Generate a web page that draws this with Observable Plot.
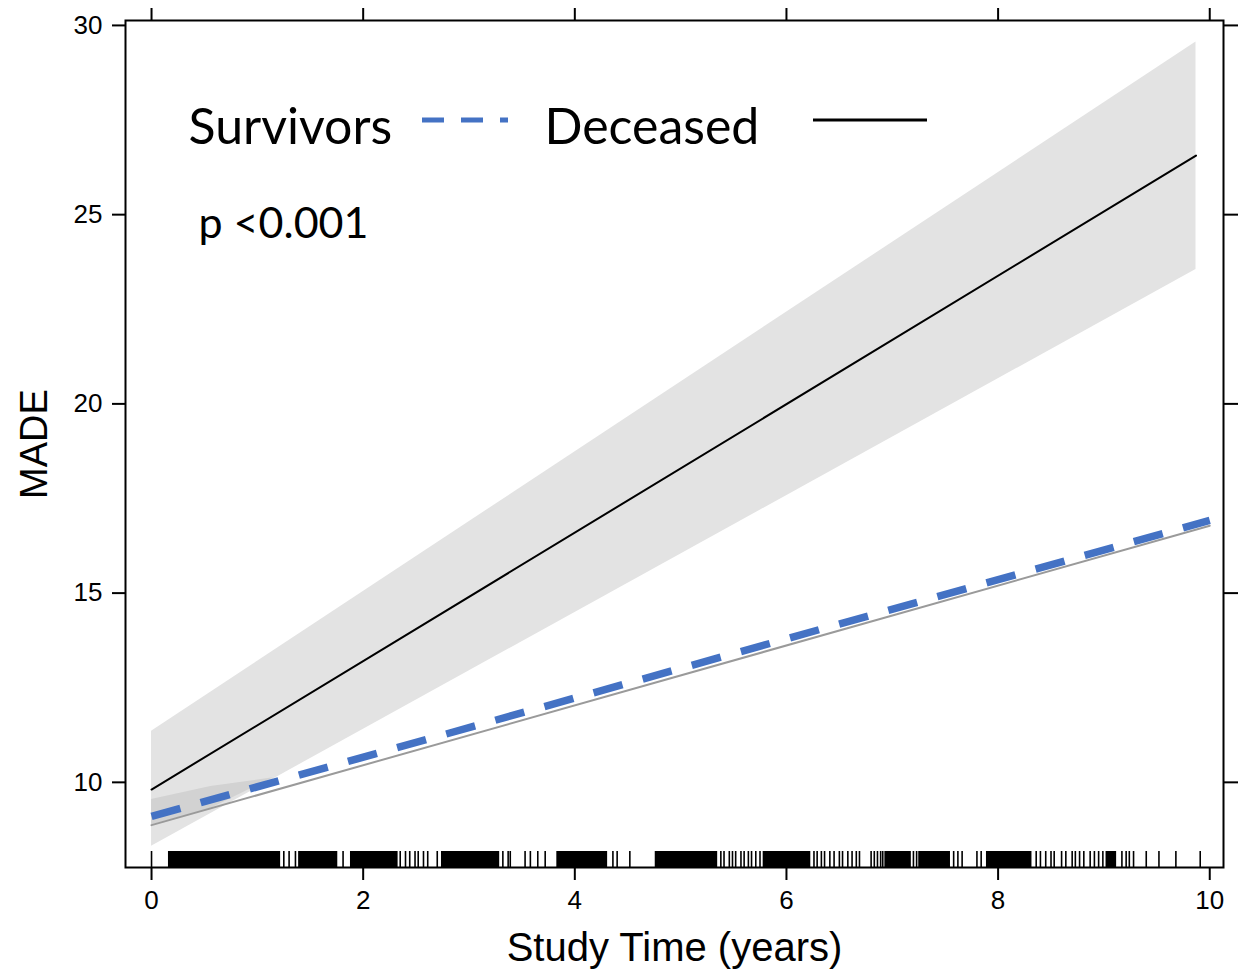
<!DOCTYPE html>
<html>
<head>
<meta charset="utf-8">
<script src="https://cdn.jsdelivr.net/npm/d3@7"></script>
<script src="https://cdn.jsdelivr.net/npm/@observablehq/plot@0.6"></script>
<style>
  body { margin: 0; background: #fff; }
  #wrap { position: relative; width: 1245px; height: 975px; }
  #legend { position: absolute; left: 0; top: 0; pointer-events: none; }
</style>
</head>
<body>
<div id="wrap"></div>
<script>
// ---- Data ----
const deceasedX   = [0, 9.87];
const deceasedFit = [9.81, 26.56];
const deceasedLo  = [8.31, 23.55];
const deceasedHi  = [11.35, 29.56];

const survivorsX   = [0, 10];
const survivorsFit = [9.10, 16.92];
const survivorsLo  = [8.87, 16.78];

// survivors confidence band, visible only where it overlaps the deceased band
const survBandX  = [0, 0.56, 1.15];
const survBandLo = [8.87, 9.31, 10.12];
const survBandHi = [9.55, 9.89, 10.12];

// rug of observation times: dense stretches (start, end) and single ticks
const rugDenseStart = [0.16, 1.39, 1.88, 2.74, 3.83, 4.76, 5.78, 6.93, 7.25, 7.89, 9.02];
const rugDenseEnd   = [1.22, 1.76, 2.33, 3.29, 4.31, 5.35, 6.23, 7.18, 7.55, 8.32, 9.12];
const rugTicks = [0, 1.25, 1.30, 1.36, 1.81, 2.35, 2.40, 2.44, 2.49, 2.52, 2.57, 2.61, 2.70,
  3.32, 3.37, 3.39, 3.53, 3.58, 3.65, 3.72, 4.36, 4.40, 4.52,
  5.38, 5.41, 5.46, 5.49, 5.52, 5.57, 5.60, 5.64, 5.67, 5.71, 5.75,
  6.26, 6.29, 6.33, 6.36, 6.41, 6.45, 6.50, 6.53, 6.58, 6.62, 6.66, 6.69,
  6.80, 6.83, 6.86, 6.89, 6.91, 7.20, 7.23, 7.58, 7.62, 7.66, 7.80, 7.84,
  8.36, 8.40, 8.45, 8.50, 8.53, 8.60, 8.64, 8.70, 8.73, 8.77, 8.81,
  8.87, 8.91, 8.95, 8.99, 9.17, 9.21, 9.24, 9.28, 9.40, 9.52, 9.68, 9.91];

const xTicks = [0, 2, 4, 6, 8, 10];
const yTicks = [10, 15, 20, 25, 30];

// ---- tables ----
const deceased = deceasedX.map((x, i) => ({x, fit: deceasedFit[i], lo: deceasedLo[i], hi: deceasedHi[i]}));
const survivors = survivorsX.map((x, i) => ({x, fit: survivorsFit[i], lo: survivorsLo[i]}));
const survBand = survBandX.map((x, i) => ({x, lo: survBandLo[i], hi: survBandHi[i]}));
const dense = rugDenseStart.map((s, i) => ({s, e: rugDenseEnd[i]}));

const axisFont = "'Liberation Sans', Arial, sans-serif";
const legendFont = "Lato, 'Open Sans', sans-serif";

const chart = Plot.plot({
  width: 1245,
  height: 975,
  marginLeft: 125,
  marginRight: 22,
  marginTop: 20,
  marginBottom: 108,
  style: {fontFamily: axisFont, color: "#000", background: "#fff", overflow: "visible"},
  x: {domain: [-0.246, 10.13]},
  y: {domain: [7.75, 30.13]},
  marks: [
    Plot.areaY(deceased, {x: "x", y1: "lo", y2: "hi", fill: "#e3e3e3"}),
    Plot.areaY(survBand, {x: "x", y1: "lo", y2: "hi", fill: "#d2d2d2"}),
    Plot.lineY(deceased, {x: "x", y: "fit", stroke: "#000", strokeWidth: 2}),
    Plot.lineY(survivors, {x: "x", y: "lo", stroke: "#9a9a9a", strokeWidth: 2}),
    Plot.lineY(survivors, {x: "x", y: "fit", stroke: "#4472C4", strokeWidth: 7.5, strokeDasharray: "30,21", strokeLinecap: "butt"}),
    Plot.rect(dense, {x1: "s", x2: "e", fill: "#000", insetTop: 831}),
    Plot.ruleX(rugTicks, {x: d => d, stroke: "#000", strokeWidth: 1.6, insetTop: 831}),
    Plot.frame({stroke: "#000", strokeWidth: 2}),
    Plot.axisX({anchor: "bottom", ticks: xTicks, tickSize: 13, tickPadding: 10, fontSize: 26, strokeWidth: 2, label: null}),
    Plot.axisX({anchor: "top", ticks: xTicks, tickSize: 13, tickFormat: () => "", strokeWidth: 2, label: null}),
    Plot.axisY({anchor: "left", ticks: yTicks, tickSize: 13, tickPadding: 10, fontSize: 26, strokeWidth: 2, label: null}),
    Plot.axisY({anchor: "right", ticks: yTicks, tickSize: 14, tickFormat: () => "", strokeWidth: 2, label: null}),
    Plot.text(["Study Time (years)"], {frameAnchor: "bottom", dy: 93, lineAnchor: "bottom", textAnchor: "middle", fontSize: 40, fontFamily: axisFont, fill: "#000"}),
    Plot.text(["MADE"], {frameAnchor: "left", dx: -79, rotate: -90, lineAnchor: "bottom", textAnchor: "middle", fontSize: 38, fontFamily: axisFont, fill: "#000"}),
    Plot.text(["Survivors"], {frameAnchor: "top-left", dx: 63, dy: 123, textAnchor: "start", lineAnchor: "bottom", fontSize: 50, fontFamily: legendFont, fill: "#000"}),
    Plot.text(["Deceased"], {frameAnchor: "top-left", dx: 419, dy: 123, textAnchor: "start", lineAnchor: "bottom", fontSize: 50, fontFamily: legendFont, fill: "#000"}),
    Plot.text(["p <0.001"], {frameAnchor: "top-left", dx: 73, dy: 217, textAnchor: "start", lineAnchor: "bottom", fontSize: 43, fontFamily: legendFont, fill: "#000"})
  ]
});

const wrap = document.getElementById("wrap");
wrap.appendChild(chart);

// legend swatches
const ns = "http://www.w3.org/2000/svg";
const lg = document.createElementNS(ns, "svg");
lg.setAttribute("id", "legend");
lg.setAttribute("width", 1245);
lg.setAttribute("height", 975);
const sw1 = document.createElementNS(ns, "line");
sw1.setAttribute("x1", 422); sw1.setAttribute("x2", 508);
sw1.setAttribute("y1", 120); sw1.setAttribute("y2", 120);
sw1.setAttribute("stroke", "#4472C4"); sw1.setAttribute("stroke-width", 5);
sw1.setAttribute("stroke-dasharray", "22,17");
lg.appendChild(sw1);
const sw2 = document.createElementNS(ns, "line");
sw2.setAttribute("x1", 813); sw2.setAttribute("x2", 927);
sw2.setAttribute("y1", 120); sw2.setAttribute("y2", 120);
sw2.setAttribute("stroke", "#000"); sw2.setAttribute("stroke-width", 3);
lg.appendChild(sw2);
wrap.appendChild(lg);
</script>
</body>
</html>
